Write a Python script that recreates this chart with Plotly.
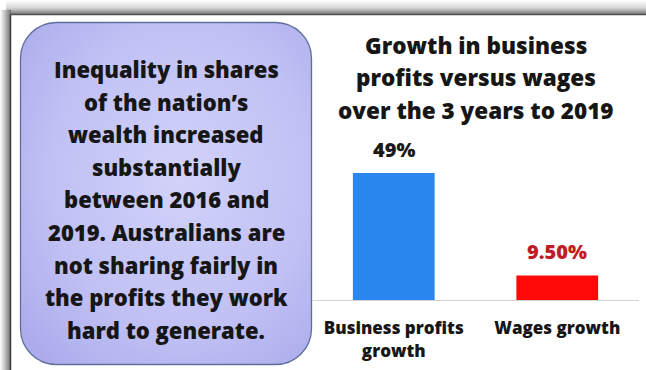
import base64
import plotly.graph_objects as go

# Data
categories = ["Business profits<br>growth", "Wages growth"]
growth_pct = [49, 9.5]
value_labels = ["49%", "9.50%"]
bar_colors = ["#2a86ef", "#ff0808"]
label_colors = ["#1a1a1a", "#c01c28"]

title_lines = ["Growth in business", "profits versus wages", "over the 3 years to 2019"]
note_lines = [
    "Inequality in shares",
    "of the nation\u2019s",
    "wealth increased",
    "substantially",
    "between 2016 and",
    "2019. Australians are",
    "not sharing fairly in",
    "the profits they work",
    "hard to generate.",
]

W, H = 646, 370
ML, MR, MT, MB = 312, 7, 130, 70
PW, PH = W - ML - MR, H - MT - MB
FONT = "'Open Sans', sans-serif"
INK = "#161616"


def px_x(px):
    return (px - ML) / PW


def px_y(py):
    return (H - MB - py) / PH


# Background: framed panel with soft shadow and the rounded callout box
svg = f"""<svg xmlns='http://www.w3.org/2000/svg' width='{W}' height='{H}' viewBox='0 0 {W} {H}'>
<defs>
<linearGradient id='top' x1='0' y1='0' x2='0' y2='1'>
<stop offset='0' stop-color='#ffffff'/><stop offset='0.55' stop-color='#d8d8d8'/><stop offset='1' stop-color='#7a7a7a'/>
</linearGradient>
<linearGradient id='left' x1='0' y1='0' x2='1' y2='0'>
<stop offset='0' stop-color='#ffffff'/><stop offset='0.4' stop-color='#c8c8c8'/><stop offset='1' stop-color='#6e6e6e'/>
</linearGradient>
<radialGradient id='box' cx='0.55' cy='0.45' r='0.75'>
<stop offset='0' stop-color='#d2d2fa'/><stop offset='0.6' stop-color='#c0c0f4'/><stop offset='1' stop-color='#a9a9ec'/>
</radialGradient>
</defs>
<rect x='0' y='0' width='{W}' height='{H}' fill='#ffffff'/>
<rect x='6' y='0' width='{W-6}' height='14' fill='url(#top)'/>
<rect x='0' y='10' width='11' height='{H-10}' fill='url(#left)'/>
<line x1='10.5' y1='14' x2='10.5' y2='{H}' stroke='#3c3c3c' stroke-width='1.5'/>
<line x1='10' y1='14.5' x2='{W}' y2='14.5' stroke='#505050' stroke-width='1.5'/>
<rect x='20.5' y='22.5' width='291' height='342' rx='36' ry='36' fill='url(#box)' stroke='#5f6f9a' stroke-width='1.3'/>
</svg>"""
bg_src = "data:image/svg+xml;base64," + base64.b64encode(svg.encode()).decode()

fig = go.Figure(
    go.Bar(
        x=categories,
        y=growth_pct,
        marker=dict(color=bar_colors, line=dict(width=0)),
        width=0.5,
        hoverinfo="skip",
    )
)

annotations = []
for cat, val, lab, col in zip(categories, growth_pct, value_labels, label_colors):
    annotations.append(dict(
        x=cat, y=val, xref="x", yref="y", text=lab, showarrow=False,
        yanchor="bottom", yshift=8,
        font=dict(family=FONT, size=20, color=col, weight=800),
    ))

for i, line in enumerate(title_lines):
    annotations.append(dict(
        x=px_x(476), y=px_y(45 + 32.5 * i), xref="paper", yref="paper",
        text=line, showarrow=False, xanchor="center", yanchor="middle",
        font=dict(family=FONT, size=22.5, color=INK, weight=800),
    ))

for i, line in enumerate(note_lines):
    annotations.append(dict(
        x=px_x(166), y=px_y(69 + 32.6 * i), xref="paper", yref="paper",
        text=line, showarrow=False, xanchor="center", yanchor="middle",
        font=dict(family=FONT, size=22, color=INK, weight=800),
    ))

fig.update_layout(
    width=W, height=H,
    margin=dict(l=ML, r=MR, t=MT, b=MB, pad=0),
    paper_bgcolor="rgba(0,0,0,0)", plot_bgcolor="rgba(0,0,0,0)",
    showlegend=False,
    bargap=0.5,
    images=[dict(
        source=bg_src, xref="paper", yref="paper",
        x=px_x(0), y=px_y(0), sizex=W / PW, sizey=H / PH,
        xanchor="left", yanchor="top", sizing="stretch", layer="below",
    )],
    annotations=annotations,
    xaxis=dict(
        showline=True, linecolor="#d4d4d4", linewidth=1, showgrid=False,
        ticks="", tickfont=dict(family=FONT, size=17, color=INK, weight=800),
        ticklabelstandoff=13, fixedrange=True,
    ),
    yaxis=dict(range=[0, 65.6], visible=False, fixedrange=True),
)

fig.write_html("out.html")
